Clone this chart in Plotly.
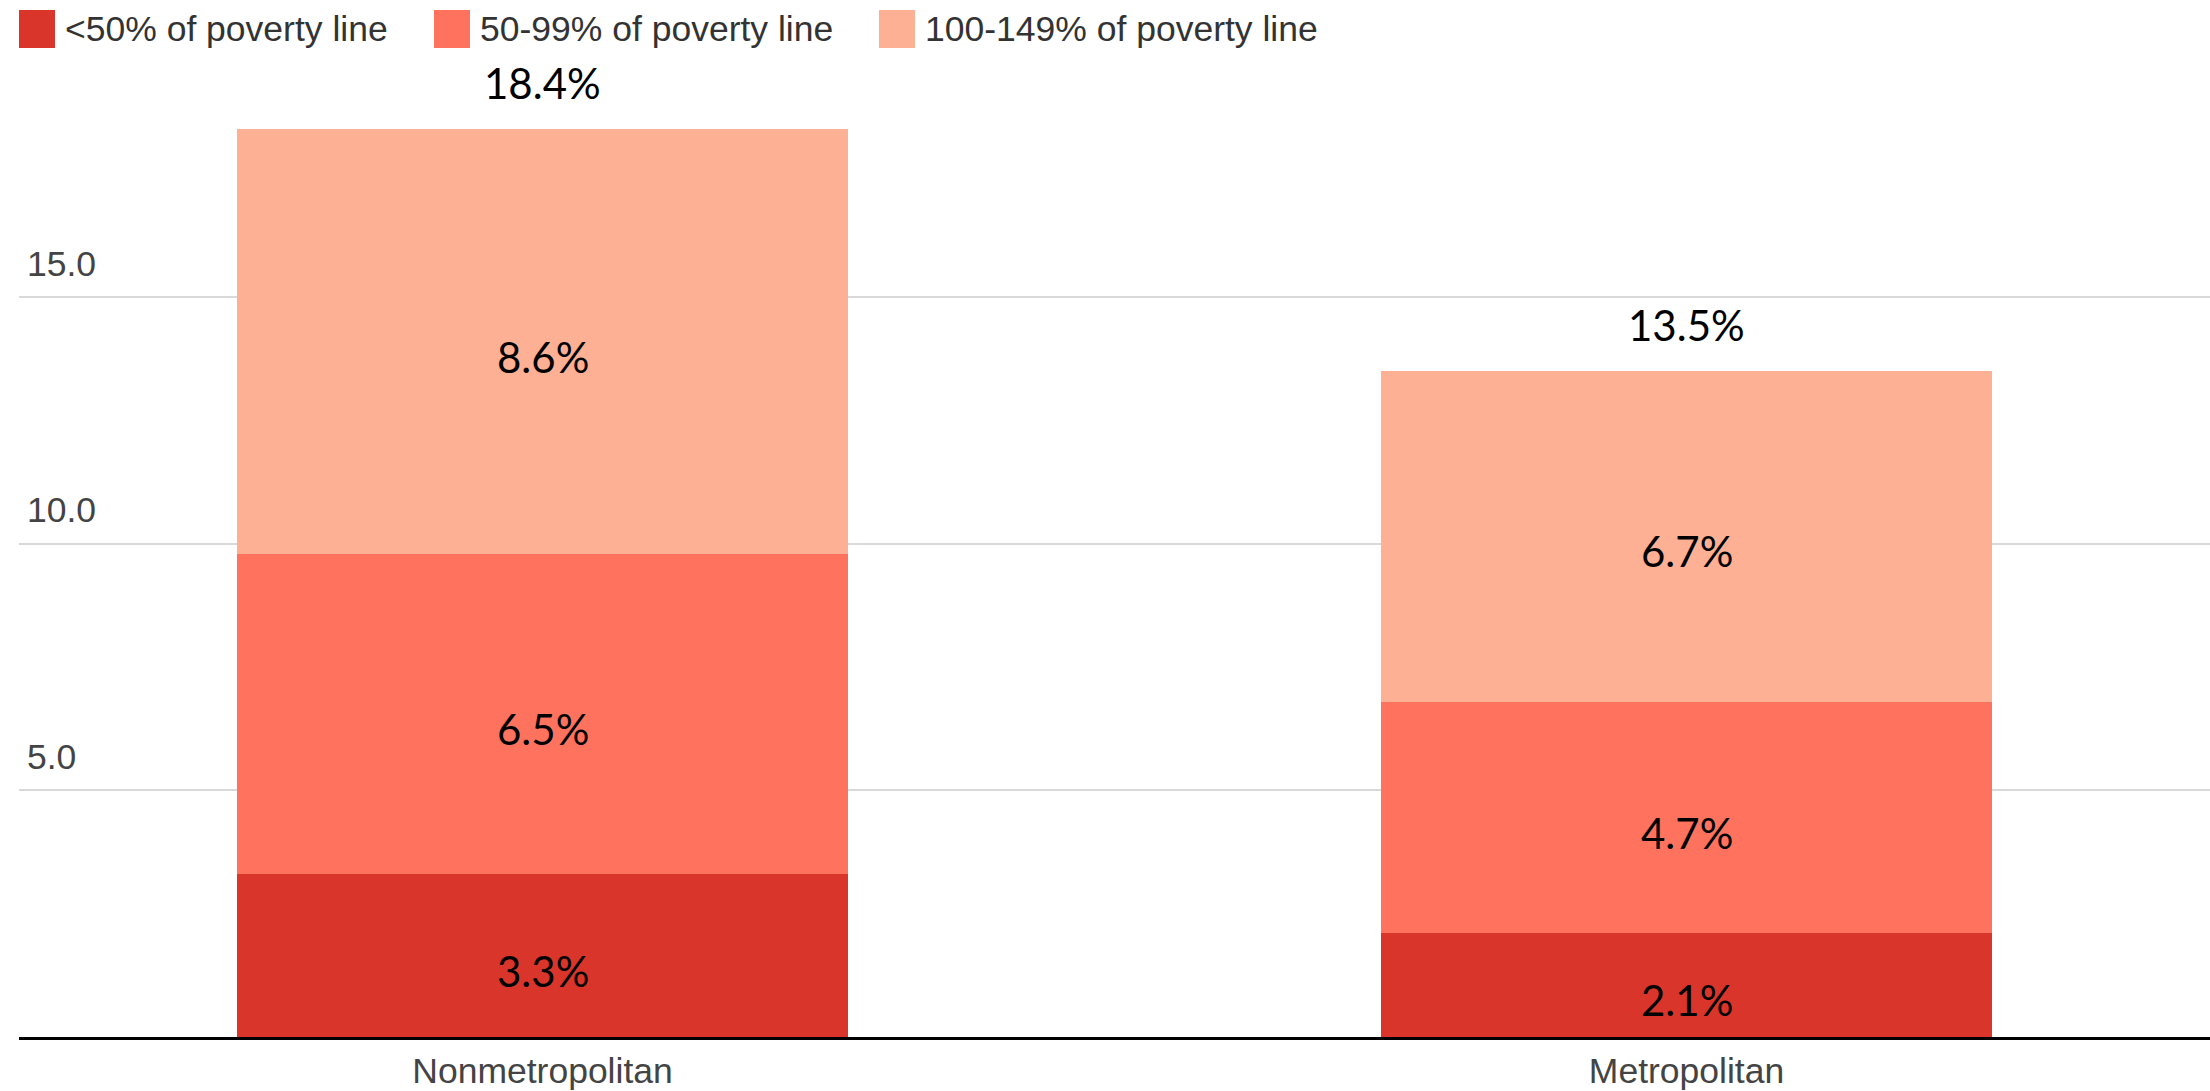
import plotly.graph_objects as go

# ---- data ----
categories = ["Nonmetropolitan", "Metropolitan"]
series_names = ["<50% of poverty line", "50-99% of poverty line", "100-149% of poverty line"]
below_50 = [3.3, 2.1]
from_50_to_99 = [6.5, 4.7]
from_100_to_149 = [8.6, 6.7]
y_tick_values = [5, 10, 15]
y_tick_labels = ["5.0", "10.0", "15.0"]

series_values = [below_50, from_50_to_99, from_100_to_149]
colors = ["#DA352A", "#FF735E", "#FDB093"]
totals = [round(sum(v), 1) for v in zip(*series_values)]

W, H = 2210, 1091
M_L, M_R, M_T, M_B = 19, 0, 60, 53.5
PLOT_H = H - M_T - M_B
PLOT_W = W - M_L - M_R
PX_PER_UNIT = 49.35

AX_FONT = "Liberation Sans, Arial, sans-serif"
LBL_FONT = "Lato, Carlito, Calibri, sans-serif"
LBL_SIZE = 42

fig = go.Figure()
for name, vals, col in zip(series_names, series_values, colors):
    fig.add_trace(go.Bar(
        x=categories, y=vals, name=name, marker=dict(color=col, line=dict(width=0)),
        width=0.534, showlegend=False, hoverinfo="x+y+name",
    ))

# segment labels, centred on each stacked segment
for ci, cat in enumerate(categories):
    base = 0.0
    for vals in series_values:
        v = vals[ci]
        fig.add_annotation(x=cat, y=base + v / 2, text=f"{v:.1f}%", showarrow=False,
                           yanchor="middle", yshift=-15,
                           font=dict(family=LBL_FONT, size=LBL_SIZE, color="black"))
        base += v

# totals above stacks
for cat, tot in zip(categories, totals):
    fig.add_annotation(x=cat, y=tot, text=f"{tot:.1f}%", showarrow=False,
                       yanchor="bottom", yshift=19,
                       font=dict(family=LBL_FONT, size=LBL_SIZE, color="black"))

# manual legend (pixel -> paper helpers)
def px_x(px):
    return (px - M_L) / PLOT_W

def px_y(py):
    return (H - M_B - py) / PLOT_H

legend_swatch_x = [19, 434, 879]
for name, col, sx in zip(series_names, colors, legend_swatch_x):
    fig.add_shape(type="rect", xref="paper", yref="paper",
                  x0=px_x(sx), x1=px_x(sx + 36), y0=px_y(48), y1=px_y(10),
                  fillcolor=col, line=dict(width=0))
    fig.add_annotation(xref="paper", yref="paper", x=px_x(sx + 44), y=px_y(29),
                       xanchor="left", yanchor="middle", text=name, showarrow=False,
                       font=dict(family=AX_FONT, size=35.5, color="#333333"))

fig.update_layout(
    width=W, height=H,
    margin=dict(l=M_L, r=M_R, t=M_T, b=M_B, pad=0),
    barmode="stack", bargap=0,
    plot_bgcolor="white", paper_bgcolor="white",
    showlegend=False,
    xaxis=dict(type="category", range=[-0.4576, 1.4576], showgrid=False,
               showline=True, linecolor="black", linewidth=3, ticks="",
               automargin=False, ticklabelstandoff=0,
               tickfont=dict(family=AX_FONT, size=35.5, color="#444444")),
    yaxis=dict(range=[0, PLOT_H / PX_PER_UNIT], tickvals=y_tick_values, ticktext=y_tick_labels,
               showgrid=True, gridcolor="#D9D9D9", gridwidth=2, zeroline=False,
               showline=False, ticks="", ticklabelposition="inside top",
               ticklabelshift=-9, ticklabelstandoff=5, automargin=False,
               tickfont=dict(family=AX_FONT, size=35.5, color="#444444")),
)

fig.write_html("out.html", config={"displayModeBar": False},
               post_script="document.body.style.margin='0';document.body.style.overflow='hidden';")
